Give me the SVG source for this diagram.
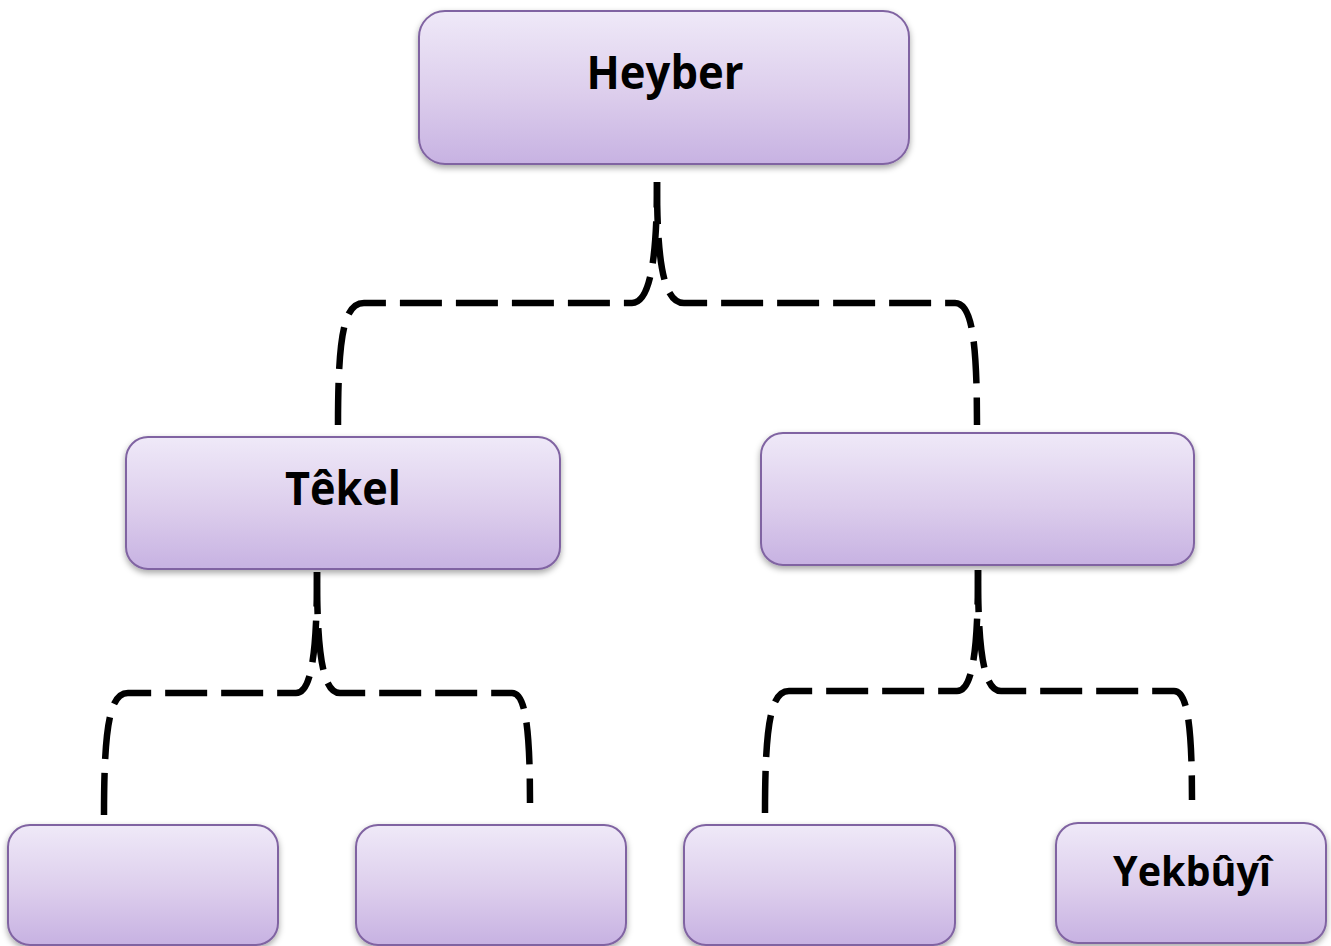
<svg xmlns="http://www.w3.org/2000/svg" width="1331" height="946" viewBox="0 0 1331 946">
<defs>
<linearGradient id="g" x1="0" y1="0" x2="0" y2="1">
<stop offset="0" stop-color="#EFE9F8"/>
<stop offset="0.55" stop-color="#DCCDEC"/>
<stop offset="1" stop-color="#C7B2E2"/>
</linearGradient>
<filter id="sh" x="-10%" y="-10%" width="120%" height="130%">
<feDropShadow dx="0" dy="3" stdDeviation="3" flood-color="#000" flood-opacity="0.35"/>
</filter>
</defs>
<style>
.box{fill:url(#g);stroke:#8064A2;stroke-width:2;filter:url(#sh)}
.lbl{font-family:"Open Sans","Liberation Sans",sans-serif;font-weight:bold;fill:#000;text-anchor:middle}
.con{fill:none;stroke:#000;stroke-width:6.5;stroke-dasharray:42 14}
</style>
<rect width="1331" height="946" fill="#fff"/>
<g id="connectors">
<path class="con" d="M338,425 C338,335 344,303 364,303 L632,303 C650,303 657,260 657,182"/>
<path class="con" d="M657,182 C657,260 663,303 684,303 L955,303 C971,303 977,335 977,425"/>
<path class="con" d="M104,815 C104,725 110,693 128,693 L296,693 C312,693 317,650 317,572"/>
<path class="con" d="M317,572 C317,650 322,693 340,693 L512,693 C525,693 530,725 530,803"/>
<path class="con" d="M765,813 C765,723 771,691 789,691 L957,691 C973,691 978,648 978,570"/>
<path class="con" d="M978,570 C978,648 983,691 1001,691 L1174,691 C1187,691 1192,723 1192,800"/>
</g>
<g id="heyber"><rect class="box" x="419" y="11" width="490" height="153" rx="26"/><text class="lbl" x="665" y="89" font-size="47" textLength="157" lengthAdjust="spacingAndGlyphs">Heyber</text></g>
<g id="tekel"><rect class="box" x="126" y="437" width="434" height="132" rx="22"/><text class="lbl" x="343" y="505" font-size="47" textLength="116" lengthAdjust="spacingAndGlyphs">Têkel</text></g>
<g id="mid-right"><rect class="box" x="761" y="433" width="433" height="132" rx="22"/></g>
<g id="leaf1"><rect class="box" x="8" y="825" width="270" height="120" rx="22"/></g>
<g id="leaf2"><rect class="box" x="356" y="825" width="270" height="120" rx="22"/></g>
<g id="leaf3"><rect class="box" x="684" y="825" width="271" height="120" rx="22"/></g>
<g id="yekbuyi"><rect class="box" x="1056" y="823" width="270" height="120" rx="22"/><text class="lbl" x="1192" y="886" font-size="41" textLength="158" lengthAdjust="spacingAndGlyphs">Yekbûyî</text></g>
</svg>
